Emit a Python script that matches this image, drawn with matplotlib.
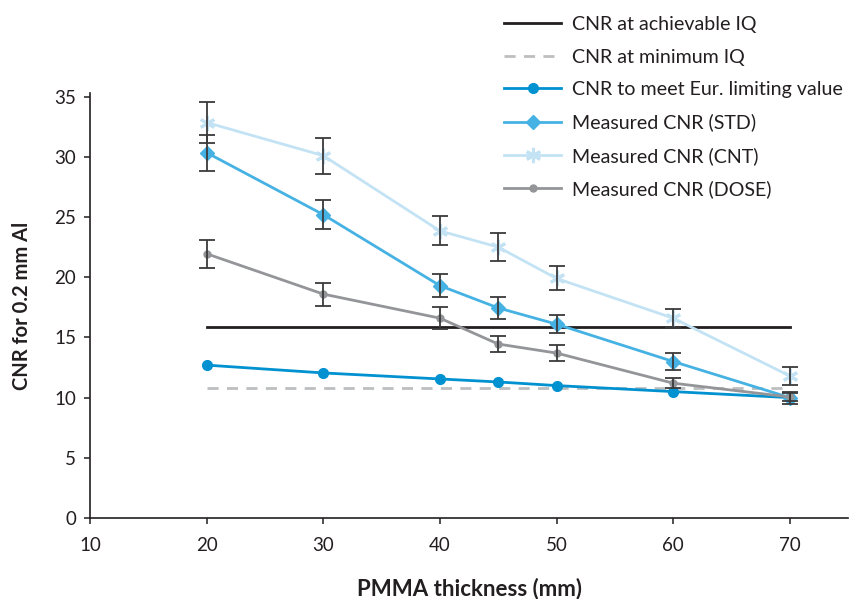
import matplotlib
matplotlib.use("Agg")
import matplotlib.pyplot as plt

plt.rcParams['font.family'] = ['Lato', 'DejaVu Sans']

thickness = [20, 30, 40, 45, 50, 60, 70]
achievable_x = [20, 70]
achievable_iq = [15.9, 15.9]
minimum_iq = [10.8, 10.8]
eur_limit = [12.7, 12.05, 11.55, 11.3, 11.0, 10.5, 10.0]
cnr_std = [30.35, 25.2, 19.3, 17.45, 16.1, 13.0, 10.0]
cnr_std_err = [1.5, 1.2, 0.95, 0.9, 0.75, 0.7, 0.5]
cnr_cnt = [32.85, 30.1, 23.85, 22.5, 19.9, 16.6, 11.8]
cnr_cnt_err = [1.7, 1.5, 1.2, 1.15, 1.0, 0.8, 0.75]
cnr_dose = [21.95, 18.6, 16.6, 14.45, 13.7, 11.2, 10.05]
cnr_dose_err = [1.15, 0.95, 0.9, 0.7, 0.65, 0.4, 0.3]

labels = ["CNR at achievable IQ", "CNR at minimum IQ", "CNR to meet Eur. limiting value",
          "Measured CNR (STD)", "Measured CNR (CNT)", "Measured CNR (DOSE)"]

c_black = '#231f20'
c_gray = '#bcbec0'
c_eur = '#0091d0'
c_std = '#45b2e3'
c_cnt = '#c3e3f5'
c_dose = '#939598'
c_err = '#3a3a3a'

fig = plt.figure(figsize=(8.49, 5.99), dpi=100)
ax = fig.add_axes([0.106, 0.1352, 0.893, 0.7095])

h1, = ax.plot(achievable_x, achievable_iq, color=c_black, lw=2, zorder=2)
h2, = ax.plot(achievable_x, minimum_iq, color=c_gray, lw=2, ls=(0, (4, 3)), zorder=2)
h3, = ax.plot(thickness, eur_limit, color=c_eur, lw=2, marker='o', ms=7, zorder=3)
h4, = ax.plot(thickness, cnr_std, color=c_std, lw=2, marker='D', ms=7, zorder=3)
h5, = ax.plot(thickness, cnr_cnt, color=c_cnt, lw=2, marker=(6, 2, 0), ms=11, mew=2.2, zorder=3)
h6, = ax.plot(thickness, cnr_dose, color=c_dose, lw=2, marker='o', ms=5, zorder=3)

for vals, errs in [(cnr_std, cnr_std_err), (cnr_cnt, cnr_cnt_err), (cnr_dose, cnr_dose_err)]:
    ax.errorbar(thickness, vals, yerr=errs, fmt='none', ecolor=c_err, elinewidth=1.3,
                capsize=6, capthick=1.3, zorder=4)

ax.set_xlim(10, 75)
ax.set_ylim(0, 35.3)
ax.set_xticks([10, 20, 30, 40, 50, 60, 70])
ax.set_yticks([0, 5, 10, 15, 20, 25, 30, 35])
for s in ['top', 'right']:
    ax.spines[s].set_visible(False)
for s in ['left', 'bottom']:
    ax.spines[s].set_color(c_black)
    ax.spines[s].set_linewidth(1.2)
ax.tick_params(axis='both', direction='out', length=4, width=1.1, color=c_black,
               labelsize=13.5, labelcolor=c_black)
ax.tick_params(axis='x', pad=10)
ax.tick_params(axis='y', pad=6)
ax.set_xlabel("PMMA thickness (mm)", fontsize=16, fontweight='bold', color=c_black, labelpad=17)
ax.set_ylabel("CNR for 0.2 mm Al", fontsize=14.5, fontweight='bold', color=c_black, labelpad=16)

leg = fig.legend([h1, h2, h3, h4, h5, h6], labels, loc='upper left',
                 bbox_to_anchor=(0.578, 0.996), frameon=False, fontsize=14.1,
                 handlelength=2.9, labelspacing=0.79, handletextpad=0.55, borderpad=0.2)
for t in leg.get_texts():
    t.set_color(c_black)

fig.savefig("out.png", dpi=100)
